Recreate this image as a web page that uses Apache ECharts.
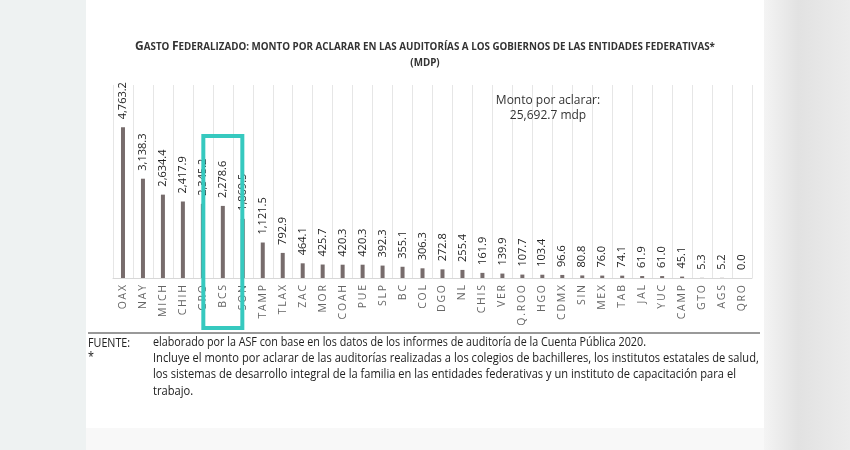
<!DOCTYPE html>
<html><head><meta charset="utf-8">
<script src="https://cdn.jsdelivr.net/npm/echarts@6/dist/echarts.min.js"></script>
<style>html,body{margin:0;padding:0;background:#fff}#c{width:850px;height:450px}</style>
</head><body><div id="c"></div>
<script>
const categories = ['OAX','NAY','MICH','CHIH','GRO','BCS','SON','TAMP','TLAX','ZAC','MOR','COAH','PUE','SLP','BC','COL','DGO','NL','CHIS','VER','Q.ROO','HGO','CDMX','SIN','MEX','TAB','JAL','YUC','CAMP','GTO','AGS','QRO'];
const values = [4763.2,3138.3,2634.4,2417.9,2345.2,2278.6,1869.5,1121.5,792.9,464.1,425.7,420.3,420.3,392.3,355.1,306.3,272.8,255.4,161.9,139.9,107.7,103.4,96.6,80.8,76.0,74.1,61.9,61.0,45.1,5.3,5.2,0.0];
const totalLabel = ['Monto por aclarar:', '25,692.7 mdp'];
const highlight = 'BCS';

const FONT = '"Open Sans","Noto Sans",sans-serif';
const chart = echarts.init(document.getElementById('c'));
function fmt(v){return v.toLocaleString('en-US',{minimumFractionDigits:1,maximumFractionDigits:1});}
function spaced(s){return s.split('').join('\u2009');}

chart.setOption({
  backgroundColor:'#fff',
  animation:false,
  title:{
    left:'center', top:34,
    text:'{c|G}{s|ASTO }{c|F}{s|EDERALIZADO: MONTO POR ACLARAR EN LAS AUDITORÍAS A LOS GOBIERNOS DE LAS ENTIDADES FEDERATIVAS*}\n{s|(MDP)}',
    textStyle:{
      rich:{
        c:{fontSize:12,fontWeight:'bold',color:'#333',fontFamily:FONT,lineHeight:16},
        s:{fontSize:9.8,fontWeight:'bold',color:'#333',fontFamily:FONT,lineHeight:16}
      }
    }
  },
  grid:{left:113,right:98,top:85,bottom:172},
  xAxis:{
    type:'category', data:categories, boundaryGap:true,
    axisTick:{show:false},
    axisLine:{lineStyle:{color:'#d8d8d8'}},
    splitLine:{show:true,interval:0,lineStyle:{color:'#e6e6e6',width:1}},
    axisLabel:{rotate:90,interval:0,color:'#666',fontSize:10.5,fontFamily:FONT,margin:7,formatter:spaced}
  },
  yAxis:{type:'value',min:0,max:6100,show:false,splitLine:{show:false}},
  series:[{
    type:'bar', data:values, barWidth:4,
    itemStyle:{color:'#776c6c'},
    label:{show:true,position:'top',rotate:90,align:'left',verticalAlign:'middle',distance:8,
      color:'#222',fontSize:11,fontFamily:FONT,formatter:p=>fmt(p.value)}
  }]
});

const bx = chart.convertToPixel({xAxisIndex:0}, highlight);
const noteFont = '12.5px '+FONT;
chart.setOption({graphic:[
  {type:'rect',shape:{x:0,y:0,width:86,height:450},style:{fill:'#eef2f2'},silent:true,z:-1},
  {type:'rect',shape:{x:764,y:0,width:86,height:450},style:{fill:new echarts.graphic.LinearGradient(0,0,1,0,[{offset:0,color:'#f4f4f4'},{offset:0.4,color:'#e2e2e2'},{offset:1,color:'#ececec'}])},silent:true,z:-1},
  {type:'rect',shape:{x:86,y:428,width:678,height:22},style:{fill:'#f8f8f8'},silent:true,z:-1},
  {type:'rect',shape:{x:bx-19.5,y:136,width:39,height:192},style:{fill:'none',stroke:'#36c9bf',lineWidth:4},z:10},
  {type:'text',style:{x:548,y:93,text:totalLabel.join('\n'),textAlign:'center',fill:'#333',font:'12px '+FONT,lineHeight:15}},
  {type:'line',shape:{x1:88,y1:333,x2:760,y2:333},style:{stroke:'#777',lineWidth:1.5}},
  {type:'text',x:88,y:336,scaleX:0.86,style:{x:0,y:0,text:'FUENTE:\n*',fill:'#222',font:noteFont,lineHeight:14}},
  {type:'text',x:153,y:336,scaleX:0.86,style:{x:0,y:0,text:'elaborado por la ASF con base en los datos de los informes de auditoría de la Cuenta Pública 2020.',fill:'#222',font:noteFont}},
  {type:'text',x:153,y:350,scaleX:0.89,style:{x:0,y:0,text:'Incluye el monto por aclarar de las auditorías realizadas a los colegios de bachilleres, los institutos estatales de salud,\nlos sistemas de desarrollo integral de la familia en las entidades federativas y un instituto de capacitación para el\ntrabajo.',fill:'#222',font:noteFont,lineHeight:16.5}}
]});
</script></body></html>
